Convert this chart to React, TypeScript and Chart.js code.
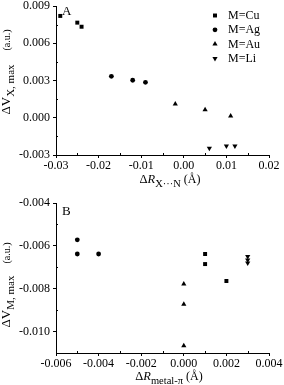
import React, { useEffect, useRef } from 'react';
import { Chart, registerables } from 'chart.js';

Chart.register(...registerables);

const FONT = "'Liberation Serif', 'Times New Roman', serif";

// ---------- Panel A data ----------
const cuXA = [-0.029, -0.025, -0.024];
const cuYA = [0.0082, 0.00766, 0.00733];
const agXA = [-0.017, -0.012, -0.009];
const agYA = [0.00334, 0.00302, 0.00285];
const auXA = [-0.002, 0.005, 0.011];
const auYA = [0.00111, 0.00065, 0.00014];
const liXA = [0.006, 0.01, 0.012];
const liYA = [-0.00246, -0.00227, -0.00227];
const xTicksA = [-0.03, -0.02, -0.01, 0, 0.01, 0.02];
const yTicksA = [-0.003, 0, 0.003, 0.006, 0.009];

// ---------- Panel B data ----------
const cuXB = [0.001, 0.001, 0.002];
const cuYB = [-0.00638, -0.00685, -0.00764];
const agXB = [-0.005, -0.005, -0.004];
const agYB = [-0.00572, -0.00638, -0.00638];
const auXB = [0, 0, 0];
const auYB = [-0.00778, -0.00873, -0.01066];
const liXB = [0.003, 0.003, 0.003];
const liYB = [-0.0065, -0.00666, -0.0068];
const xTicksB = [-0.006, -0.004, -0.002, 0, 0.002, 0.004];
const yTicksB = [-0.01, -0.008, -0.006, -0.004];

const seriesNames = ['M=Cu', 'M=Ag', 'M=Au', 'M=Li'];

// styles
const pointStyles = ['rect', 'circle', 'triangle', 'triangle'];
const pointRotations = [0, 0, 0, 180];
const pointRadii = [2.8, 2.4, 3, 3];

type Part = { text: string; size: number; italic?: boolean; dy: number; w?: number };

function partFont(p: Part) {
  return `${p.italic ? 'italic ' : ''}${p.size}px ${FONT}`;
}

function drawRich(ctx: CanvasRenderingContext2D, parts: Part[], x: number, y: number, rotate: boolean) {
  ctx.save();
  const widths = parts.map((p) => {
    if (p.w !== undefined) return p.w;
    ctx.font = partFont(p);
    return ctx.measureText(p.text).width;
  });
  const total = widths.reduce((a, b) => a + b, 0);
  ctx.translate(x, y);
  if (rotate) ctx.rotate(-Math.PI / 2);
  ctx.fillStyle = '#000';
  ctx.textBaseline = 'alphabetic';
  ctx.textAlign = 'left';
  let cx = -total / 2;
  parts.forEach((p, i) => {
    ctx.font = partFont(p);
    if (p.text) ctx.fillText(p.text, cx, p.dy);
    cx += widths[i];
  });
  ctx.restore();
}

function drawSymbol(ctx: CanvasRenderingContext2D, idx: number, x: number, y: number) {
  const r = pointRadii[idx];
  ctx.beginPath();
  const style = pointStyles[idx];
  if (style === 'rect') {
    const s = Math.SQRT1_2 * r;
    ctx.rect(x - s, y - s, 2 * s, 2 * s);
  } else if (style === 'circle') {
    ctx.arc(x, y, r, 0, Math.PI * 2);
  } else {
    const down = pointRotations[idx] === 180;
    const sgn = down ? -1 : 1;
    const h = r * 1.5;
    const w = (r * Math.sqrt(3)) / 2;
    ctx.moveTo(x, y - sgn * r);
    ctx.lineTo(x + w, y + sgn * (h - r));
    ctx.lineTo(x - w, y + sgn * (h - r));
    ctx.closePath();
  }
  ctx.fillStyle = '#000';
  ctx.fill();
}

function mids(arr: number[]) {
  const out: number[] = [];
  for (let i = 0; i < arr.length - 1; i++) out.push((arr[i] + arr[i + 1]) / 2);
  return out;
}

function datasets(xs: number[][], ys: number[][]) {
  return seriesNames.map((name, i) => ({
    label: name,
    data: xs[i].map((x, j) => ({ x, y: ys[i][j] })),
    pointStyle: pointStyles[i] as any,
    rotation: pointRotations[i],
    pointRadius: pointRadii[i],
    pointHoverRadius: pointRadii[i],
    backgroundColor: '#000',
    borderColor: '#000',
    borderWidth: 0,
    showLine: false,
  }));
}

function xScale(min: number, max: number, ticks: number[], decimals: number, height: number) {
  return {
    type: 'linear' as const,
    min,
    max,
    afterBuildTicks: (s: any) => {
      s.ticks = ticks.map((v) => ({ value: v }));
    },
    afterFit: (s: any) => {
      s.height = height;
      s.paddingLeft = 0;
      s.paddingRight = 0;
    },
    ticks: {
      callback: (v: any) => Number(v).toFixed(decimals),
      font: { family: FONT, size: 12 },
      color: '#000',
      padding: 1,
      maxRotation: 0,
      autoSkip: false,
    },
    grid: { drawOnChartArea: false, drawTicks: true, tickLength: 3, color: '#000', lineWidth: 1 },
    border: { display: true, color: '#000', width: 1 },
  };
}

function yScale(min: number, max: number, ticks: number[], decimals: number, width: number) {
  return {
    type: 'linear' as const,
    min,
    max,
    afterBuildTicks: (s: any) => {
      s.ticks = ticks.map((v) => ({ value: v }));
    },
    afterFit: (s: any) => {
      s.width = width;
      s.paddingTop = 0;
      s.paddingBottom = 0;
    },
    ticks: {
      callback: (v: any) => Number(v).toFixed(decimals),
      font: { family: FONT, size: 12 },
      color: '#000',
      padding: 3,
      autoSkip: false,
    },
    grid: { drawOnChartArea: false, drawTicks: true, tickLength: 3, color: '#000', lineWidth: 1 },
    border: { display: true, color: '#000', width: 1 },
  };
}

type PanelOpts = {
  xMinor: number[];
  yMinor: number[];
  letter: string;
  letterPos: [number, number];
  xTitle: Part[];
  xTitlePos: [number, number];
  yTitle: Part[];
  yTitlePos: [number, number];
  legend: boolean;
};

function panelPlugin(o: PanelOpts) {
  return {
    id: 'panelDecor',
    afterDraw(chart: any) {
      const ctx: CanvasRenderingContext2D = chart.ctx;
      const xs = chart.scales.x;
      const ys = chart.scales.y;
      const area = chart.chartArea;
      ctx.save();
      ctx.strokeStyle = '#000';
      ctx.lineWidth = 1;
      ctx.beginPath();
      o.xMinor.forEach((v) => {
        const px = Math.round(xs.getPixelForValue(v)) + 0.5;
        ctx.moveTo(px, area.bottom);
        ctx.lineTo(px, area.bottom - 2);
      });
      o.yMinor.forEach((v) => {
        const py = Math.round(ys.getPixelForValue(v)) + 0.5;
        ctx.moveTo(area.left, py);
        ctx.lineTo(area.left + 2, py);
      });
      ctx.stroke();

      ctx.fillStyle = '#000';
      ctx.font = `13px ${FONT}`;
      ctx.textAlign = 'left';
      ctx.textBaseline = 'alphabetic';
      ctx.fillText(o.letter, o.letterPos[0], o.letterPos[1]);

      drawRich(ctx, o.xTitle, o.xTitlePos[0], o.xTitlePos[1], false);
      drawRich(ctx, o.yTitle, o.yTitlePos[0], o.yTitlePos[1], true);

      if (o.legend) {
        seriesNames.forEach((name, i) => {
          const cy = 15.5 + i * 14.3;
          drawSymbol(ctx, i, 215, cy);
          ctx.fillStyle = '#000';
          ctx.font = `12px ${FONT}`;
          ctx.textBaseline = 'middle';
          ctx.fillText(name, 228, cy + 0.5);
        });
      }
      ctx.restore();
    },
  };
}

function makeConfig(
  xs: number[][],
  ys: number[][],
  xr: [number, number],
  yr: [number, number],
  xt: number[],
  yt: number[],
  xdec: number,
  ydec: number,
  padTop: number,
  xHeight: number,
  plugin: any
): any {
  return {
    type: 'scatter',
    data: { datasets: datasets(xs, ys) },
    options: {
      animation: false,
      responsive: true,
      maintainAspectRatio: false,
      devicePixelRatio: 1,
      layout: { padding: { left: 0, top: padTop, right: 15, bottom: 0 } },
      plugins: { legend: { display: false }, tooltip: { enabled: false }, title: { display: false } },
      scales: {
        x: xScale(xr[0], xr[1], xt, xdec, xHeight),
        y: yScale(yr[0], yr[1], yt, ydec, 56),
      },
    },
    plugins: [plugin],
  };
}

export default function App() {
  const refA = useRef<HTMLCanvasElement>(null);
  const refB = useRef<HTMLCanvasElement>(null);

  useEffect(() => {
    const pA = panelPlugin({
      xMinor: mids(xTicksA),
      yMinor: mids(yTicksA),
      letter: 'A',
      letterPos: [62, 15],
      xTitle: [
        { text: 'Δ', size: 12.5, dy: 0 },
        { text: 'R', size: 12.5, italic: true, dy: 0 },
        { text: 'X···N', size: 10.5, dy: 4 },
        { text: ' (Å)', size: 12, dy: 0 },
      ],
      xTitlePos: [170, 183],
      yTitle: [
        { text: 'ΔV', size: 13, dy: 0 },
        { text: 'X, max', size: 11, dy: 4 },
        { text: '', size: 11, dy: 0, w: 14 },
        { text: '(a.u.)', size: 10, dy: 0 },
      ],
      yTitlePos: [10, 72],
      legend: true,
    });
    const pB = panelPlugin({
      xMinor: mids(xTicksB),
      yMinor: mids(yTicksB).concat([-0.011]),
      letter: 'B',
      letterPos: [62, 23],
      xTitle: [
        { text: 'Δ', size: 12.5, dy: 0 },
        { text: 'R', size: 12.5, italic: true, dy: 0 },
        { text: 'metal-π', size: 10.5, dy: 4 },
        { text: ' (Å)', size: 12, dy: 0 },
      ],
      xTitlePos: [169, 188],
      yTitle: [
        { text: 'ΔV', size: 13, dy: 0 },
        { text: 'M, max', size: 11, dy: 4 },
        { text: '', size: 11, dy: 0, w: 12 },
        { text: '(a.u.)', size: 10, dy: 0 },
      ],
      yTitlePos: [10, 93],
      legend: false,
    });

    const a = new Chart(
      refA.current!,
      makeConfig(
        [cuXA, agXA, auXA, liXA],
        [cuYA, agYA, auYA, liYA],
        [-0.03, 0.02],
        [-0.003, 0.009],
        xTicksA,
        yTicksA,
        2,
        3,
        6,
        37,
        pA
      )
    );
    const b = new Chart(
      refB.current!,
      makeConfig(
        [cuXB, agXB, auXB, liXB],
        [cuYB, agYB, auYB, liYB],
        [-0.006, 0.004],
        [-0.011, -0.004],
        xTicksB,
        yTicksB,
        3,
        3,
        11,
        32,
        pB
      )
    );
    return () => {
      a.destroy();
      b.destroy();
    };
  }, []);

  return (
    <div style={{ position: 'fixed', left: 0, top: 0, width: 284, height: 385, background: '#fff' }}>
      <div style={{ position: 'absolute', left: 0, top: 0, width: 284, height: 192 }}>
        <canvas ref={refA} />
      </div>
      <div style={{ position: 'absolute', left: 0, top: 192, width: 284, height: 193 }}>
        <canvas ref={refB} />
      </div>
    </div>
  );
}
